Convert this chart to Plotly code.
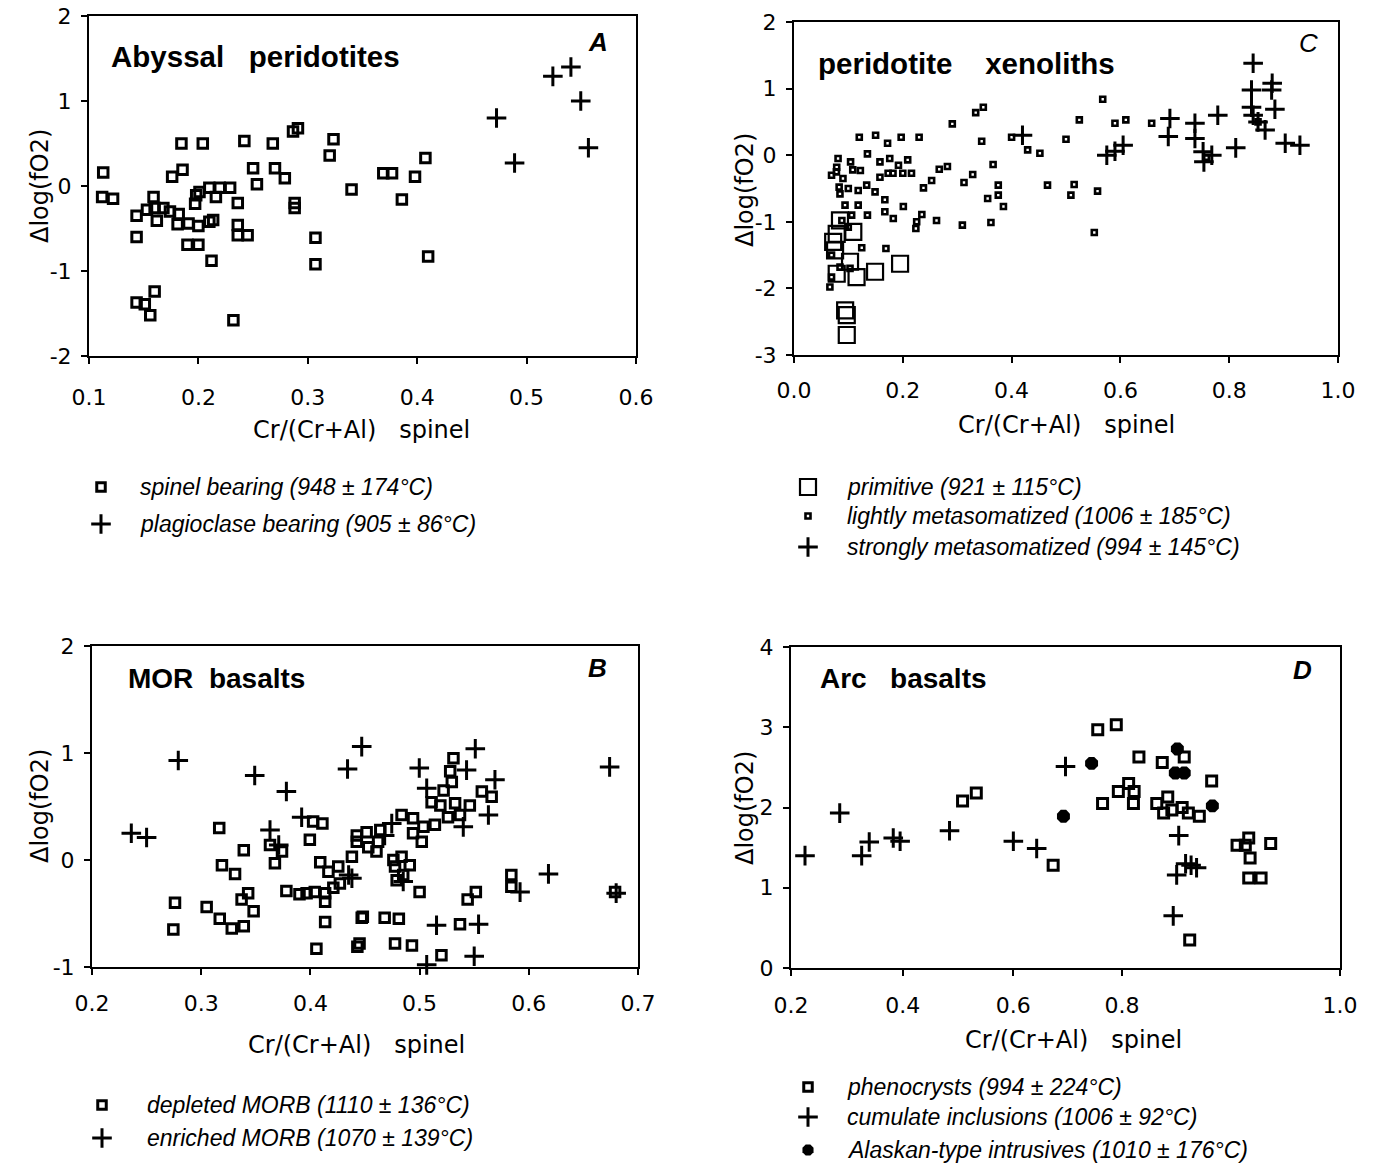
import plotly.graph_objects as go

W, H = 1382, 1165

# ---------------- DATA ----------------
# Panel A: Abyssal peridotites
A_spinel_x = [0.113, 0.112, 0.122, 0.1435, 0.1435, 0.159, 0.153, 0.162, 0.168, 0.160, 0.174, 0.182, 0.181,
              0.191, 0.200, 0.210, 0.2135, 0.190, 0.200, 0.212, 0.1845, 0.204, 0.176, 0.1855, 0.198, 0.201,
              0.197, 0.210, 0.216, 0.2195, 0.229, 0.236, 0.236, 0.236, 0.245, 0.242, 0.250, 0.2535, 0.268,
              0.270, 0.279, 0.2865, 0.291, 0.288, 0.288, 0.307, 0.307, 0.3235, 0.320, 0.340, 0.1435, 0.151,
              0.160, 0.156, 0.232, 0.369, 0.377, 0.398, 0.4075, 0.386, 0.410]
A_spinel_y = [0.16, -0.13, -0.15, -0.35, -0.60, -0.13, -0.28, -0.41, -0.26, -0.26, -0.30, -0.33, -0.45,
              -0.44, -0.47, -0.42, -0.40, -0.69, -0.69, -0.88, 0.50, 0.50, 0.11, 0.19, -0.11, -0.07,
              -0.21, -0.02, -0.13, -0.02, -0.02, -0.20, -0.46, -0.58, -0.58, 0.53, 0.21, 0.02, 0.50,
              0.21, 0.09, 0.64, 0.68, -0.20, -0.26, -0.61, -0.92, 0.55, 0.36, -0.04, -1.37, -1.39,
              -1.24, -1.52, -1.58, 0.15, 0.15, 0.11, 0.33, -0.16, -0.83]
A_plag_x = [0.4725, 0.489, 0.524, 0.5405, 0.5495, 0.5565]
A_plag_y = [0.80, 0.27, 1.29, 1.40, 1.00, 0.45]

# Panel C: peridotite xenoliths
C_prim_x = [0.195, 0.149, 0.115, 0.103, 0.0785, 0.0755, 0.072, 0.0785, 0.109, 0.0845, 0.097, 0.097, 0.094]
C_prim_y = [-1.63, -1.75, -1.83, -1.60, -1.78, -1.43, -1.30, -1.18, -1.15, -0.98, -2.40, -2.70, -2.33]
C_light_x = [0.12, 0.150, 0.172, 0.197, 0.230, 0.291, 0.334, 0.348, 0.345, 0.400, 0.4295, 0.452, 0.500,
             0.135, 0.081, 0.104, 0.069, 0.078, 0.090, 0.108, 0.122, 0.158, 0.176, 0.209, 0.192, 0.158,
             0.173, 0.182, 0.200, 0.216, 0.267, 0.282, 0.238, 0.253, 0.3125, 0.3285, 0.366, 0.3755,
             0.3755, 0.356, 0.385, 0.466, 0.167, 0.201, 0.167, 0.1825, 0.235, 0.2255, 0.224, 0.262,
             0.3095, 0.362, 0.135, 0.1245, 0.169, 0.066, 0.0785, 0.083, 0.0845, 0.0998, 0.118, 0.1336,
             0.149, 0.106, 0.0938, 0.088, 0.0998, 0.118, 0.069, 0.0846, 0.103, 0.069, 0.5675, 0.5245,
             0.590, 0.610, 0.6575, 0.515, 0.509, 0.558, 0.552, 0.758, 0.853]
C_light_y = [0.27, 0.30, 0.18, 0.27, 0.27, 0.47, 0.64, 0.72, 0.21, 0.27, 0.08, 0.03, 0.24,
             0.02, -0.05, -0.10, -0.30, -0.25, -0.35, -0.22, -0.23, -0.10, -0.05, -0.07, -0.15, -0.33,
             -0.27, -0.27, -0.27, -0.27, -0.21, -0.17, -0.49, -0.38, -0.41, -0.29, -0.14, -0.45,
             -0.60, -0.65, -0.77, -0.45, -0.67, -0.77, -0.85, -0.95, -0.89, -1.00, -1.10, -0.98,
             -1.05, -1.01, -0.90, -1.39, -1.40, -1.98, -0.18, -0.48, -0.58, -0.50, -0.53, -0.45,
             -0.55, -0.90, -0.75, -0.98, -1.08, -0.75, -1.50, -1.68, -1.70, -1.83, 0.84, 0.53,
             0.48, 0.53, 0.48, -0.44, -0.60, -0.54, -1.16, -0.03, 0.50]
C_strong_x = [0.420, 0.844, 0.841, 0.841, 0.879, 0.878, 0.884, 0.844, 0.853, 0.866, 0.575, 0.590, 0.605,
              0.691, 0.688, 0.737, 0.737, 0.752, 0.768, 0.7535, 0.779, 0.812, 0.903, 0.930]
C_strong_y = [0.30, 1.38, 0.98, 0.72, 1.08, 0.98, 0.69, 0.60, 0.50, 0.38, 0.00, 0.06, 0.15,
              0.55, 0.28, 0.48, 0.25, 0.05, 0.00, -0.10, 0.60, 0.11, 0.18, 0.15]

# Panel B: MOR basalts
B_dep_x = [0.3165, 0.339, 0.319, 0.331, 0.276, 0.2745, 0.305, 0.317, 0.328, 0.339, 0.348, 0.343, 0.337,
           0.3675, 0.363, 0.374, 0.3995, 0.4025, 0.411, 0.378, 0.4135, 0.4135, 0.4055, 0.443, 0.447,
           0.390, 0.3965, 0.404, 0.4135, 0.421, 0.427, 0.409, 0.4165, 0.4255, 0.438, 0.4425, 0.4425,
           0.531, 0.528, 0.5295, 0.522, 0.557, 0.566, 0.511, 0.519, 0.5325, 0.546, 0.537, 0.526, 0.514,
           0.5035, 0.494, 0.4835, 0.502, 0.494, 0.464, 0.462, 0.4515, 0.453, 0.4605, 0.476, 0.4835,
           0.491, 0.4775, 0.485, 0.479, 0.500, 0.584, 0.584, 0.5515, 0.544, 0.537, 0.468, 0.481, 0.448,
           0.4775, 0.493, 0.445, 0.520, 0.679]
B_dep_y = [0.30, 0.09, -0.05, -0.13, -0.40, -0.65, -0.44, -0.55, -0.64, -0.62, -0.48, -0.31, -0.37,
           -0.03, 0.14, 0.08, 0.19, 0.36, 0.34, -0.29, -0.39, -0.58, -0.83, -0.81, -0.54,
           -0.32, -0.31, -0.30, -0.31, -0.26, -0.22, -0.02, -0.11, -0.06, 0.03, 0.23, 0.17,
           0.95, 0.83, 0.73, 0.65, 0.64, 0.59, 0.54, 0.51, 0.53, 0.51, 0.42, 0.40, 0.33,
           0.31, 0.39, 0.42, 0.17, 0.25, 0.28, 0.17, 0.26, 0.12, 0.08, 0.00, 0.03,
           -0.05, -0.06, -0.14, -0.19, -0.30, -0.14, -0.25, -0.30, -0.37, -0.60, -0.54, -0.55, -0.53,
           -0.78, -0.80, -0.78, -0.89, -0.30]
B_enr_x = [0.236, 0.250, 0.279, 0.349, 0.378, 0.363, 0.371, 0.392, 0.434, 0.447, 0.435, 0.438, 0.551,
           0.4997, 0.543, 0.5065, 0.569, 0.563, 0.540, 0.674, 0.618, 0.592, 0.680, 0.5155, 0.554, 0.550,
           0.5065, 0.4745, 0.468, 0.485]
B_enr_y = [0.25, 0.21, 0.93, 0.79, 0.64, 0.28, 0.14, 0.40, 0.85, 1.06, -0.14, -0.17, 1.04,
           0.86, 0.84, 0.67, 0.75, 0.42, 0.31, 0.87, -0.13, -0.30, -0.31, -0.61, -0.60, -0.90,
           -0.98, 0.34, 0.23, -0.20]

# Panel D: Arc basalts
D_phen_x = [0.45, 0.47, 0.582, 0.647, 0.674, 0.707, 0.741, 0.773, 0.813, 0.654, 0.677, 0.692, 0.700,
            0.699, 0.733, 0.749, 0.743, 0.755, 0.770, 0.779, 0.795, 0.862, 0.867, 0.869, 0.899, 0.867,
            0.885, 0.781, 0.850]
D_phen_y = [2.08, 2.18, 1.28, 2.97, 3.03, 2.63, 2.56, 2.63, 2.33, 2.05, 2.20, 2.30, 2.20,
            2.05, 2.05, 2.13, 1.93, 1.97, 2.00, 1.93, 1.89, 1.53, 1.62, 1.37, 1.55, 1.12,
            1.12, 0.35, 1.53]
D_cum_x = [0.2204, 0.271, 0.303, 0.314, 0.349, 0.359, 0.431, 0.524, 0.558, 0.600, 0.765, 0.783, 0.791,
           0.762, 0.757, 0.775]
D_cum_y = [1.40, 1.93, 1.40, 1.57, 1.62, 1.58, 1.71, 1.58, 1.49, 2.51, 1.65, 1.28, 1.25,
           1.16, 0.65, 1.30]
D_alask_x = [0.597, 0.638, 0.763, 0.760, 0.773, 0.814]
D_alask_y = [1.89, 2.55, 2.73, 2.43, 2.43, 2.02]

# Tick labels
A_xticks = [0.1, 0.2, 0.3, 0.4, 0.5, 0.6]
A_xtext = ["0.1", "0.2", "0.3", "0.4", "0.5", "0.6"]
A_yticks = [-2, -1, 0, 1, 2]
A_ytext = ["-2", "-1", "0", "1", "2"]
C_xticks = [0.0, 0.2, 0.4, 0.6, 0.8, 1.0]
C_xtext = ["0.0", "0.2", "0.4", "0.6", "0.8", "1.0"]
C_yticks = [-3, -2, -1, 0, 1, 2]
C_ytext = ["-3", "-2", "-1", "0", "1", "2"]
B_xticks = [0.2, 0.3, 0.4, 0.5, 0.6, 0.7]
B_xtext = ["0.2", "0.3", "0.4", "0.5", "0.6", "0.7"]
B_yticks = [-1, 0, 1, 2]
B_ytext = ["-1", "0", "1", "2"]
# label positions as printed in the original panel D
D_xticks = [0.2, 0.363, 0.524, 0.6825, 1.0]
D_xtext = ["0.2", "0.4", "0.6", "0.8", "1.0"]
D_yticks = [0, 1, 2, 3, 4]
D_ytext = ["0", "1", "2", "3", "4"]

# ---------------- LAYOUT HELPERS ----------------
def fx(p):
    return p / W


def fy(p):
    return 1 - p / H


BLACK = "black"
TICKFONT = dict(family="DejaVu Sans", size=22, color=BLACK)
TITLEFONT = dict(family="DejaVu Sans", size=24, color=BLACK)
HEADFONT = dict(family="Liberation Sans", size=29.5, color=BLACK, weight="bold")
HEADFONT2 = dict(family="Liberation Sans", size=28, color=BLACK, weight="bold")
LEGFONT = dict(family="Liberation Sans", size=23, color=BLACK, style="italic")

panels = [
    # name, axis suffix, box (l, t, r, b) px, xrange, yrange, ticks, x standoff
    ("A", "", (89, 16, 636, 356), [0.1, 0.6], [-2, 2], A_xticks, A_xtext, A_yticks, A_ytext, 15),
    ("C", "2", (794, 22, 1338, 355), [0.0, 1.0], [-3, 2], C_xticks, C_xtext, C_yticks, C_ytext, 9),
    ("B", "3", (92, 646, 638, 967), [0.2, 0.7], [-1, 2], B_xticks, B_xtext, B_yticks, B_ytext, 10),
    ("D", "4", (791, 647, 1340, 968), [0.2, 1.0], [0, 4], D_xticks, D_xtext, D_yticks, D_ytext, 11),
]

fig = go.Figure()
layout = dict(width=W, height=H, margin=dict(l=0, r=0, t=0, b=0, pad=0),
              paper_bgcolor="white", plot_bgcolor="rgba(0,0,0,0)", showlegend=False)

for name, s, (l, t, r, b), xr, yr, xt, xtt, yt, ytt, xso in panels:
    common = dict(showline=True, linecolor=BLACK, linewidth=2, mirror=True, ticks="outside",
                  ticklen=6, tickwidth=2, tickcolor=BLACK, showgrid=False, zeroline=False,
                  tickfont=TICKFONT, tickmode="array", fixedrange=True, automargin=False)
    layout["xaxis" + s] = dict(common, domain=[fx(l), fx(r)], range=xr, tickvals=xt, ticktext=xtt,
                               anchor="y" + s, ticklabelstandoff=xso)
    layout["yaxis" + s] = dict(common, domain=[fy(b), fy(t)], range=yr, tickvals=yt, ticktext=ytt,
                               anchor="x" + s, ticklabelstandoff=5)

# overlay pixel axis for legend keys
layout["xaxis5"] = dict(domain=[0, 1], range=[0, W], visible=False, anchor="y5", fixedrange=True,
                        automargin=False)
layout["yaxis5"] = dict(domain=[0, 1], range=[H, 0], visible=False, anchor="x5", fixedrange=True,
                        automargin=False)
fig.update_layout(**layout)


def sq(size, lw):
    return dict(symbol="square-open", size=size, color=BLACK, line=dict(color=BLACK, width=lw))


def cross(size, lw):
    return dict(symbol="cross-thin-open", size=size, color=BLACK, line=dict(color=BLACK, width=lw))


def dot(size):
    return dict(symbol="octagon", size=size, color=BLACK, line=dict(color=BLACK, width=0))


def add(x, y, s, marker):
    fig.add_trace(go.Scatter(x=x, y=y, mode="markers", marker=marker,
                             xaxis="x" + s, yaxis="y" + s, hoverinfo="skip", cliponaxis=False))


SQ = sq(9.5, 3)
CR = cross(14, 3)
SMALL = sq(5, 2.6)
BIG = sq(16, 2.2)
add(A_spinel_x, A_spinel_y, "", SQ)
add(A_plag_x, A_plag_y, "", CR)
add(C_light_x, C_light_y, "2", SMALL)
add(C_prim_x, C_prim_y, "2", BIG)
add(C_strong_x, C_strong_y, "2", CR)
add(B_dep_x, B_dep_y, "3", SQ)
add(B_enr_x, B_enr_y, "3", CR)
add(D_phen_x, D_phen_y, "4", sq(10, 3))
add(D_cum_x, D_cum_y, "4", CR)
add(D_alask_x, D_alask_y, "4", dot(14))

# legend keys (pixel positions, layout only)
legend_keys = [
    (101, 487, sq(8.5, 3)), (101, 524, CR),
    (808, 487, BIG), (808, 516, SMALL), (808, 547, CR),
    (102, 1105, sq(8.5, 3)), (102, 1138, CR),
    (808, 1087, sq(8.5, 3)), (808, 1117, CR), (808, 1150, dot(12)),
]
for kx, ky, m in legend_keys:
    add([kx], [ky], "5", m)

ann = []


def text(x, y, t, font, xanchor="left", angle=0):
    ann.append(dict(x=fx(x), y=fy(y), xref="paper", yref="paper", text=t, showarrow=False,
                    font=font, xanchor=xanchor, yanchor="middle", textangle=angle))


NB = "\u00a0"
text(109, 56, "Abyssal" + NB * 3 + "peridotites", HEADFONT)
text(816, 63, "peridotite" + NB * 4 + "xenoliths", HEADFONT)
text(126, 678, "MOR" + NB * 2 + "basalts", HEADFONT2)
text(818, 678, "Arc" + NB * 3 + "basalts", HEADFONT2)

LETB = dict(family="Liberation Sans", size=26, color=BLACK, weight="bold", style="italic")
LETC = dict(family="Liberation Sans", size=26, color=BLACK, style="italic")
text(598, 42, "A", LETB, "center")
text(1308, 43, "C", LETC, "center")
text(597, 668, "B", LETB, "center")
text(1302, 670, "D", LETB, "center")

XT = "Cr/(Cr+Al)" + NB * 3 + "spinel"
text(361, 430, XT, TITLEFONT, "center")
text(1066, 425, XT, TITLEFONT, "center")
text(357, 1045, XT, TITLEFONT, "center")
text(1073, 1040, XT, TITLEFONT, "center")

YT = "Δlog(fO2)"
text(40, 186, YT, TITLEFONT, "center", -90)
text(745, 190, YT, TITLEFONT, "center", -90)
text(40, 806, YT, TITLEFONT, "center", -90)
text(745, 808, YT, TITLEFONT, "center", -90)

text(138, 487, "spinel bearing (948 ± 174°C)", LEGFONT)
text(138, 524, "plagioclase bearing (905 ± 86°C)", LEGFONT)
text(845, 487, "primitive (921 ± 115°C)", LEGFONT)
text(845, 516, "lightly metasomatized (1006 ± 185°C)", LEGFONT)
text(845, 547, "strongly metasomatized (994 ± 145°C)", LEGFONT)
text(145, 1105, "depleted MORB (1110 ± 136°C)", LEGFONT)
text(145, 1138, "enriched MORB (1070 ± 139°C)", LEGFONT)
text(845, 1087, "phenocrysts (994 ± 224°C)", LEGFONT)
text(845, 1117, "cumulate inclusions (1006 ± 92°C)", LEGFONT)
text(845, 1150, "Alaskan-type intrusives (1010 ± 176°C)", LEGFONT)

fig.update_layout(annotations=ann)

fig.write_html("out.html", config={"displayModeBar": False},
               post_script="document.body.style.margin='0px';")
